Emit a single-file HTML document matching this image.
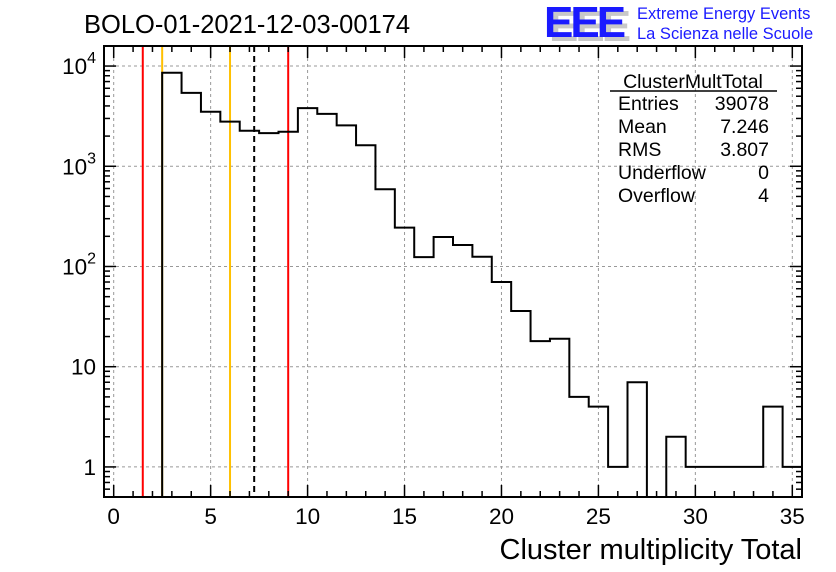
<!DOCTYPE html>
<html><head><meta charset="utf-8">
<style>
body{margin:0;background:#fff;}
svg{display:block;font-family:"Liberation Sans",Arial,sans-serif;}
</style></head>
<body>
<svg id="chart" width="836" height="572" viewBox="0 0 836 572" xmlns="http://www.w3.org/2000/svg">
<rect width="836" height="572" fill="#fff"/>
<g id="grid"></g>
<g id="vlines"></g>
<path id="hist" fill="none" stroke="#000" stroke-width="2"/>
<g id="axes"></g>
<rect x="104" y="46" width="698" height="451" fill="none" stroke="#000" stroke-width="2"/>
<text x="84" y="33" font-size="25.5">BOLO-01-2021-12-03-00174</text>
<text x="802" y="559" font-size="29" text-anchor="end">Cluster multiplicity Total</text>
<g>
<text x="549" y="41" font-size="44" font-weight="bold" fill="#c8c8c8" letter-spacing="-3">EEE</text>
<text x="544" y="37" font-size="44" font-weight="bold" fill="#1a1aff" letter-spacing="-3">EEE</text>
<text x="637" y="19" font-size="16.5" fill="#1a1aff">Extreme Energy Events</text>
<text x="637" y="39" font-size="16.5" fill="#1a1aff">La Scienza nelle Scuole</text>
</g>
<g font-size="19.5">
<text x="693" y="88" text-anchor="middle">ClusterMultTotal</text>
<line x1="610" y1="91" x2="777" y2="91" stroke="#000" stroke-width="1.5"/>
<text x="618" y="110">Entries</text><text x="769" y="110" text-anchor="end">39078</text>
<text x="618" y="133">Mean</text><text x="769" y="133" text-anchor="end">7.246</text>
<text x="618" y="156">RMS</text><text x="769" y="156" text-anchor="end">3.807</text>
<text x="618" y="179">Underflow</text><text x="769" y="179" text-anchor="end">0</text>
<text x="618" y="202">Overflow</text><text x="769" y="202" text-anchor="end">4</text>
</g>
</svg>
<script>
const binCenters=[0,1,2,3,4,5,6,7,8,9,10,11,12,13,14,15,16,17,18,19,20,21,22,23,24,25,26,27,28,29,30,31,32,33,34,35];
const binCounts=[0,0,0,8580,5400,3500,2790,2260,2140,2210,3800,3330,2560,1620,590,244,124,197,164,125,70,36,18,19,5,4,1,7,0,2,1,1,1,1,4,1];
const xTickLabels=[0,5,10,15,20,25,30,35];
const yTickValues=[1,10,100,1000,10000];
const yTickLabels=["1","10","10^2","10^3","10^4"];
const markerX=[1.5,2.5,6,7.246,9];
const markerColors=["#ff0000","#ffc000","#ffc000","#000","#ff0000"];

const X0=104,X1=802,Y0=497,Y1=46;
const xmin=-0.5,xmax=35.5,lmin=-0.3,lmax=4.2;
const xs=v=>X0+(v-xmin)/(xmax-xmin)*(X1-X0);
const ys=v=>Y0-(Math.log10(v)-lmin)/(lmax-lmin)*(Y0-Y1);
const NS="http://www.w3.org/2000/svg";
function mk(tag,attrs,parent){const e=document.createElementNS(NS,tag);for(const k in attrs)e.setAttribute(k,attrs[k]);parent.appendChild(e);return e;}
const grid=document.getElementById('grid'),axes=document.getElementById('axes'),vl=document.getElementById('vlines');
xTickLabels.forEach(t=>{const l=mk('line',{x1:xs(t),x2:xs(t),y1:Y1,y2:Y0,stroke:'#999','stroke-dasharray':'3,3','stroke-width':1},grid);

});
yTickValues.forEach(t=>{const l=mk('line',{x1:X0,x2:X1,y1:ys(t),y2:ys(t),stroke:'#999','stroke-dasharray':'3,3','stroke-width':1},grid);

});
markerX.forEach((m,i)=>{const l=mk('line',{x1:xs(m),x2:xs(m),y1:Y1,y2:Y0,stroke:markerColors[i],'stroke-width':2},vl);
if(markerColors[i]==='#000')l.setAttribute('stroke-dasharray','6,4');

});
let d='';const ymin=Math.pow(10,lmin);
binCenters.forEach((c,i)=>{const v=binCounts[i];const y=v>0?ys(Math.max(v,ymin)):Y0;const xl=xs(c-0.5),xr=xs(c+0.5);
if(i===0)d+=`M${xl},${y}`;else d+=`L${xl},${y}`;d+=`L${xr},${y}`;});
document.getElementById('hist').setAttribute('d',d);
for(let v=0;v<=35;v++){const maj=v%5===0;const len=maj?12:6;const x=xs(v);
mk('line',{x1:x,x2:x,y1:Y0,y2:Y0-len,stroke:'#000','stroke-width':1.5},axes);
mk('line',{x1:x,x2:x,y1:Y1,y2:Y1+len,stroke:'#000','stroke-width':1.5},axes);}
xTickLabels.forEach(t=>{const e=mk('text',{x:xs(t),y:524,'font-size':22.5,'text-anchor':'middle'},axes);e.textContent=t;

});
for(let dcd=-1;dcd<=4;dcd++){for(let m=1;m<=9;m++){const v=m*Math.pow(10,dcd);const lv=Math.log10(v);if(lv<lmin||lv>lmax)continue;const len=m===1?12:6;const y=ys(v);
mk('line',{x1:X0,x2:X0+len,y1:y,y2:y,stroke:'#000','stroke-width':1.5},axes);
mk('line',{x1:X1,x2:X1-len,y1:y,y2:y,stroke:'#000','stroke-width':1.5},axes);}}
yTickValues.forEach((t,i)=>{const lab=yTickLabels[i];const y=ys(t)+8;const e=mk('text',{x:96,y:y,'font-size':22.5,'text-anchor':'end'},axes);
if(lab.startsWith('10^')){e.textContent='10';const s=mk('tspan',{dy:-11,'font-size':16},e);s.textContent=lab.slice(3);}else e.textContent=lab;

});
</script>
</body></html>
